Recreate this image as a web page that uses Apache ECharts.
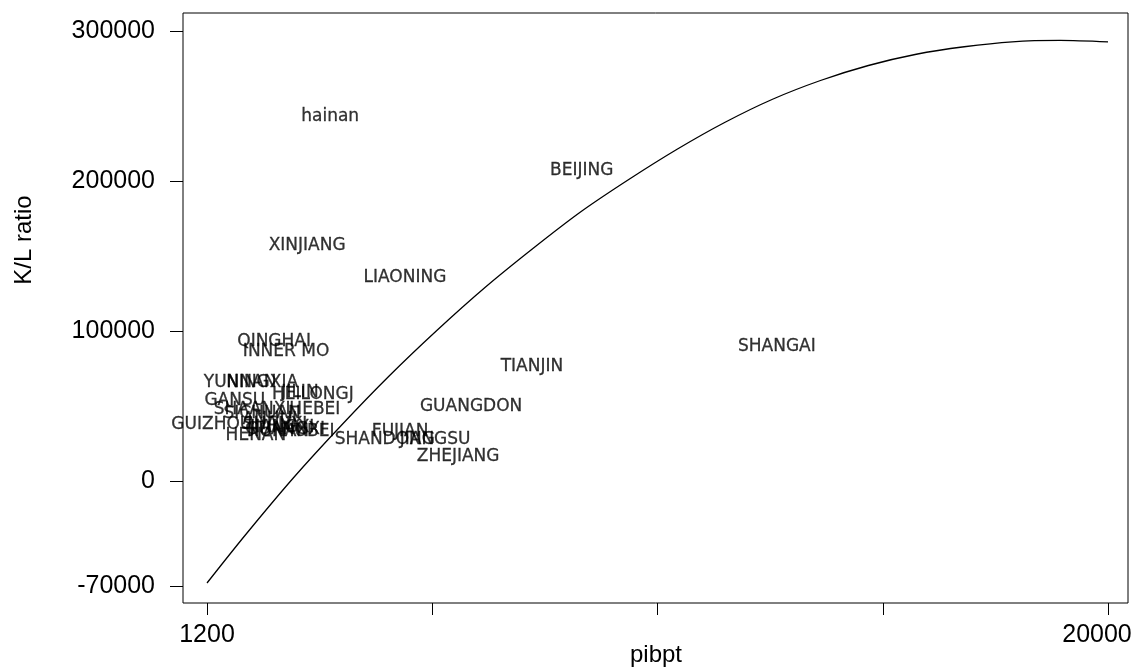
<!DOCTYPE html>
<html>
<head>
<meta charset="utf-8">
<script src="https://cdn.jsdelivr.net/npm/echarts@6/dist/echarts.min.js"></script>
<style>
html,body{margin:0;padding:0;background:#fff;}
#chart{width:1135px;height:668px;}
</style>
</head>
<body>
<div id="chart"></div>
<script>
// Province labels (positioned at their data values)
const provinces = ['hainan','BEIJING','XINJIANG','LIAONING','QINGHAI','INNER MO','TIANJIN','SHANGAI','GUANGDON','ZHEJIANG','JIANGSU','SHANDONG','FUJIAN','YUNNAN','NINGXIA','GANSU','HEILONGJ','JILIN','HEBEI','HUBEI','HENAN','GUIZHOU','SHAANXI','SICHUAN','ANHUI','SHANXI','JIANGXI','HUNAN','GUANGXI'];
const pibpt = [3770,9020,3290,5330,2600,2850,7980,13090,6710,6440,5960,4910,5230,1890,2350,1780,3410,3140,3450,3310,2220,1300,2140,2350,2510,2620,2770,2680,2830];
const klRatio = [242700,206700,156700,135300,92700,86000,76000,89300,49300,16000,27300,27300,32700,65300,65300,53300,57300,58700,47300,32700,30000,37300,47300,44700,40700,37300,35300,32700,34000];

// Fitted curve
const curveX = [1200,2000,3000,4000,5000,6000,7000,8000,9000,10000,11000,12000,13000,14000,15000,16000,17000,18000,19000,20000];
const curveY = [-68000,-36000,2000,37000,70000,100500,129000,155000,179500,201000,221000,239000,254500,267000,277000,284500,289500,292800,293700,292700];

// Ticks
const xTicks = [1200,5900,10600,15300,20000];
const xTickLabels = [1200,20000];
const yTicks = [-70000,0,100000,200000,300000];

const labelData = provinces.map((n,i)=>[pibpt[i], klRatio[i], n]);
const curveData = curveX.map((x,i)=>[x, curveY[i]]);

const axisFont = '"Liberation Sans", Arial, sans-serif';

const chart = echarts.init(document.getElementById('chart'), null, {renderer:'canvas'});
chart.setOption({
  animation:false,
  backgroundColor:'#fff',
  grid:{left:183, top:13, right:7, bottom:65, show:true, borderColor:'#000', borderWidth:1, backgroundColor:'transparent', containLabel:false, outerBoundsMode:'none'},
  xAxis:{
    type:'value', min:699, max:20417,
    axisLine:{show:false, onZero:false},
    splitLine:{show:false},
    axisTick:{show:true, inside:false, length:12, customValues:xTicks, lineStyle:{color:'#000', width:1}},
    axisLabel:{show:true, customValues:xTickLabels, margin:20, color:'#000', fontFamily:axisFont, fontSize:25,
      formatter:function(v){ return v===20000 ? '{r|'+v+'}' : '{n|'+v+'}'; },
      rich:{ r:{padding:[0,22,0,0], fontFamily:axisFont, fontSize:25, color:'#000'}, n:{fontFamily:axisFont, fontSize:25, color:'#000'} }
    }
  },
  yAxis:{
    type:'value', min:-81333, max:312000,
    axisLine:{show:false, onZero:false},
    splitLine:{show:false},
    axisTick:{show:true, inside:false, length:13, customValues:yTicks, lineStyle:{color:'#000', width:1}},
    axisLabel:{show:true, customValues:yTicks, margin:28, color:'#000', fontFamily:axisFont, fontSize:25,
      formatter:function(v){ return String(v); }}
  },
  graphic:[{
    type:'text', x:24, y:240, rotation:Math.PI/2,
    style:{text:'K/L ratio', fill:'#000', font:'24px "Liberation Sans", Arial, sans-serif', align:'center', verticalAlign:'middle'}
  },{
    type:'text', x:656, y:655,
    style:{text:'pibpt', fill:'#000', font:'24px "Liberation Sans", Arial, sans-serif', align:'center', verticalAlign:'middle'}
  }],
  series:[
    {
      type:'line', data:curveData, smooth:0.3, showSymbol:false, symbol:'none',
      lineStyle:{color:'#000', width:1.3}, z:2
    },
    {
      type:'scatter', data:labelData, symbolSize:1, itemStyle:{color:'rgba(0,0,0,0)'},
      label:{show:true, position:'inside', formatter:function(p){return p.data[2];}, color:'#000',
        fontFamily:'"DejaVu Sans", sans-serif', fontSize:17, textBorderColor:'#000', textBorderWidth:0.3},
      labelLayout:{hideOverlap:false},
      z:3
    }
  ]
});
</script>
</body>
</html>
